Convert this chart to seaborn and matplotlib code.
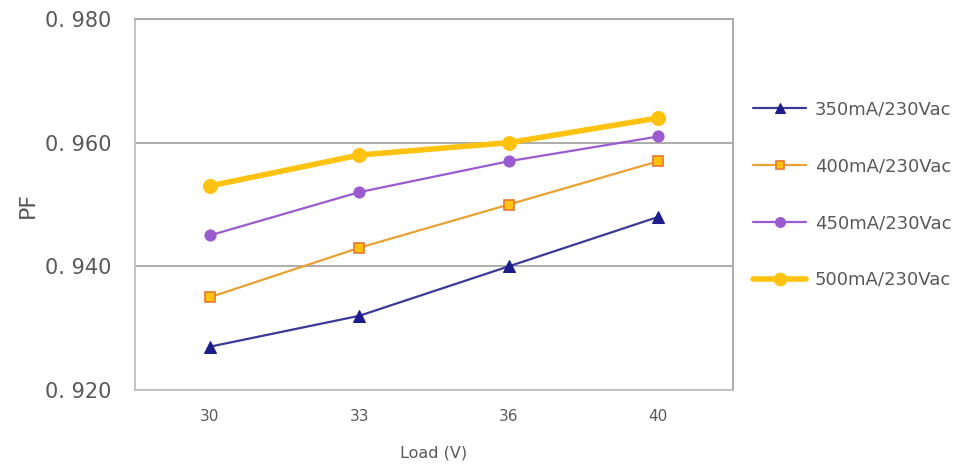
import matplotlib
matplotlib.use("Agg")
import matplotlib.pyplot as plt
import seaborn as sns
import pandas as pd

loads = ["30", "33", "36", "40"]
pf_350 = [0.927, 0.932, 0.940, 0.948]
pf_400 = [0.935, 0.943, 0.950, 0.957]
pf_450 = [0.945, 0.952, 0.957, 0.961]
pf_500 = [0.953, 0.958, 0.960, 0.964]
series_names = ["350mA/230Vac", "400mA/230Vac", "450mA/230Vac", "500mA/230Vac"]
y_ticks = [0.920, 0.940, 0.960, 0.980]
y_tick_labels = ["0. 920", "0. 940", "0. 960", "0. 980"]

sns.set_theme(style="white")
plt.rcParams["font.family"] = ["DejaVu Sans"]

fig = plt.figure(figsize=(9.62, 4.69), dpi=100)
ax = fig.add_axes([0.1403, 0.1684, 0.762 - 0.1403, 0.9595 - 0.1684])

df = pd.DataFrame({
    "Load": loads * 4,
    "PF": pf_350 + pf_400 + pf_450 + pf_500,
    "Series": sum([[n] * 4 for n in series_names], []),
})

styles = {
    "350mA/230Vac": dict(color="#3A3A98", marker="^", markersize=8, linewidth=1.6,
                         markerfacecolor="#1C1C8A", markeredgecolor="#1C1C8A"),
    "400mA/230Vac": dict(color="#EBA032", marker="s", markersize=7, linewidth=1.6,
                         markerfacecolor="#FFC20E", markeredgecolor="#E8772E", markeredgewidth=1.2),
    "450mA/230Vac": dict(color="#9B5BD0", marker="o", markersize=8, linewidth=1.6,
                         markerfacecolor="#9B5BD0", markeredgecolor="#9B5BD0"),
    "500mA/230Vac": dict(color="#FFC20E", marker="o", markersize=10, linewidth=4.0,
                         markerfacecolor="#FFC20E", markeredgecolor="#FFC20E"),
}

for name in series_names:
    sub = df[df["Series"] == name]
    sns.lineplot(data=sub, x="Load", y="PF", ax=ax, label=name, sort=False, **styles[name])

ax.set_xlim(-0.5, 3.5)
ax.set_ylim(0.920, 0.980)
ax.set_yticks(y_ticks)
ax.set_yticklabels(y_tick_labels)
ax.yaxis.grid(True, color="#A6A6A6", linewidth=1.3)
ax.set_axisbelow(True)
for side, sp in ax.spines.items():
    sp.set_visible(True)
    sp.set_color("#BFBFBF")
    sp.set_linewidth(1.3)
ax.spines["right"].set_color("#A6A6A6")
ax.spines["top"].set_color("#A6A6A6")

ax.tick_params(axis="y", labelsize=15, colors="#595959", length=0, pad=17)
ax.tick_params(axis="x", labelsize=11, colors="#595959", length=0, pad=14)
ax.set_ylabel("PF", fontsize=16, color="#595959", labelpad=5)
ax.set_xlabel("Load (V)", fontsize=11.5, color="#595959", labelpad=15)

leg = ax.legend(loc="upper left", bbox_to_anchor=(1.022, 0.80), frameon=False,
                fontsize=13, labelspacing=2.15, handlelength=2.9, handletextpad=0.5,
                borderaxespad=0, markerscale=0.9)
for t in leg.get_texts():
    t.set_color("#595959")

fig.savefig("out.png", dpi=100)
